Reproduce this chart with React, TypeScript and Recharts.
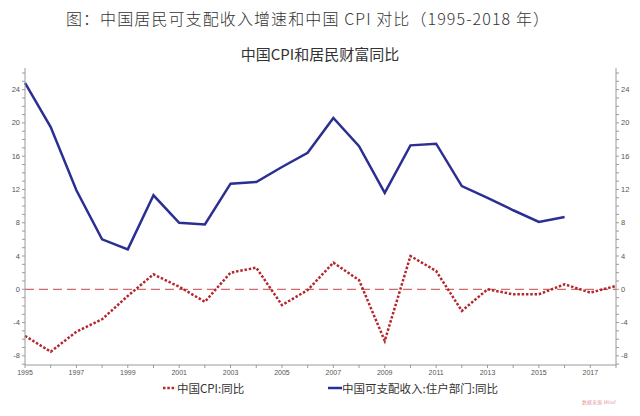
import React from "react";
import {
  LineChart,
  Line,
  XAxis,
  YAxis,
  ReferenceLine,
} from "recharts";

// 年份 1995-2018
const years = [
  "1995", "1996", "1997", "1998", "1999", "2000", "2001", "2002",
  "2003", "2004", "2005", "2006", "2007", "2008", "2009", "2010",
  "2011", "2012", "2013", "2014", "2015", "2016", "2017", "2018",
];

// 中国CPI:同比
const cpi = [
  -5.6, -7.5, -5.1, -3.6, -0.8, 1.8, 0.3, -1.5,
  2.0, 2.6, -1.9, -0.1, 3.2, 1.1, -6.2, 4.0,
  2.2, -2.6, 0.0, -0.6, -0.6, 0.6, -0.4, 0.4,
];

// 中国可支配收入:住户部门:同比 (到 2016 年)
const income = [
  24.8, 19.5, 11.9, 6.0, 4.8, 11.3, 8.0, 7.8,
  12.7, 12.9, 14.7, 16.4, 20.6, 17.2, 11.6, 17.3,
  17.5, 12.4, 11.0, 9.5, 8.1, 8.7,
];

const yTicks = Array.from({ length: 36 }, (_, i) => i - 9);

const data = years.map((year, i) => ({
  year,
  cpi: cpi[i],
  income: i < income.length ? income[i] : null,
}));

const AXIS = "#9a9a9a";
const LABEL = "#555";
const FONT = "'Liberation Sans', Arial, sans-serif";
const CJK = "'Noto Sans CJK SC', 'Noto Sans', sans-serif";

const LeftTick = (p: any) => {
  const v = p.payload.value;
  if (v % 4 !== 0) return <g />;
  return (
    <text x={p.x} y={p.y} dy={2.5} textAnchor="end" fontSize={7.5} fontFamily={FONT} fill={LABEL}>
      {v}
    </text>
  );
};

const RightTick = (p: any) => {
  const v = p.payload.value;
  if (v % 4 !== 0) return <g />;
  return (
    <text x={p.x} y={p.y} dy={2.5} textAnchor="start" fontSize={7.5} fontFamily={FONT} fill={LABEL}>
      {v}
    </text>
  );
};

export default function App() {
  return (
    <div
      style={{
        position: "absolute",
        left: 0,
        top: 0,
        width: 640,
        height: 416,
        background: "#fff",
        overflow: "hidden",
      }}
    >
      <div
        style={{
          position: "absolute",
          left: 0,
          top: 6,
          width: 616,
          textAlign: "center",
          fontFamily: CJK,
          fontSize: 16,
          letterSpacing: 1.1,
          color: "#333",
          fontWeight: 300,
        }}
      >
        图：中国居民可支配收入增速和中国 CPI 对比（1995-2018 年）
      </div>
      <div
        style={{
          position: "absolute",
          left: 0,
          top: 43,
          width: 640,
          textAlign: "center",
          fontFamily: CJK,
          fontSize: 15,
          color: "#333",
        }}
      >
        中国CPI和居民财富同比
      </div>

      <div style={{ position: "absolute", left: 0, top: 0 }}>
        <LineChart
          width={640}
          height={380}
          data={data}
          margin={{ top: 68, right: 0, bottom: 0, left: 0 }}
        >
          <XAxis
            dataKey="year"
            interval={0}
            height={15}
            stroke={AXIS}
            tickSize={3}
            tickMargin={2}
            tickFormatter={(v: string, i: number) => (i % 2 === 0 ? v : "")}
            tick={{ fontSize: 7, fontFamily: FONT, fill: LABEL }}
          />
          <YAxis
            yAxisId="left"
            width={25}
            domain={[-9.1, 26.6]}
            ticks={yTicks}
            interval={0}
            stroke={AXIS}
            tickSize={3}
            tickMargin={2}
            tick={LeftTick}
            allowDataOverflow
          />
          <YAxis
            yAxisId="right"
            orientation="right"
            width={24}
            domain={[-9.1, 26.6]}
            ticks={yTicks}
            interval={0}
            stroke={AXIS}
            tickSize={3}
            tickMargin={2}
            tick={RightTick}
            allowDataOverflow
          />
          <ReferenceLine
            yAxisId="left"
            y={0}
            stroke="#d46a6a"
            strokeWidth={1.2}
            strokeDasharray="9 5"
          />
          <Line
            yAxisId="left"
            dataKey="cpi"
            stroke="#b3272d"
            strokeWidth={2.5}
            strokeDasharray="2.5 1.8"
            dot={false}
            isAnimationActive={false}
          />
          <Line
            yAxisId="left"
            dataKey="income"
            stroke="#2b2f92"
            strokeWidth={2.5}
            dot={false}
            isAnimationActive={false}
          />
        </LineChart>
      </div>

      {/* legend */}
      <div
        style={{
          position: "absolute",
          top: 380,
          left: 0,
          width: 640,
          height: 16,
          fontFamily: CJK,
          fontSize: 11.5,
          color: "#333",
        }}
      >
        <svg style={{ position: "absolute", left: 162, top: 4 }} width={14} height={8}>
          <line x1={1} y1={4} x2={14} y2={4} stroke="#b3272d" strokeWidth={2.5} strokeDasharray="2.5 1.8" />
        </svg>
        <span style={{ position: "absolute", left: 177, top: 0 }}>中国CPI:同比</span>
        <svg style={{ position: "absolute", left: 328, top: 4 }} width={14} height={8}>
          <line x1={0} y1={4} x2={14} y2={4} stroke="#2b2f92" strokeWidth={2.5} />
        </svg>
        <span style={{ position: "absolute", left: 342, top: 0 }}>中国可支配收入:住户部门:同比</span>
      </div>

      <div
        style={{
          position: "absolute",
          left: 582,
          top: 398,
          fontFamily: CJK,
          fontSize: 5,
          color: "#e59a9a",
          whiteSpace: "nowrap",
        }}
      >
        数据来源 <i>Wind</i>
      </div>
    </div>
  );
}
